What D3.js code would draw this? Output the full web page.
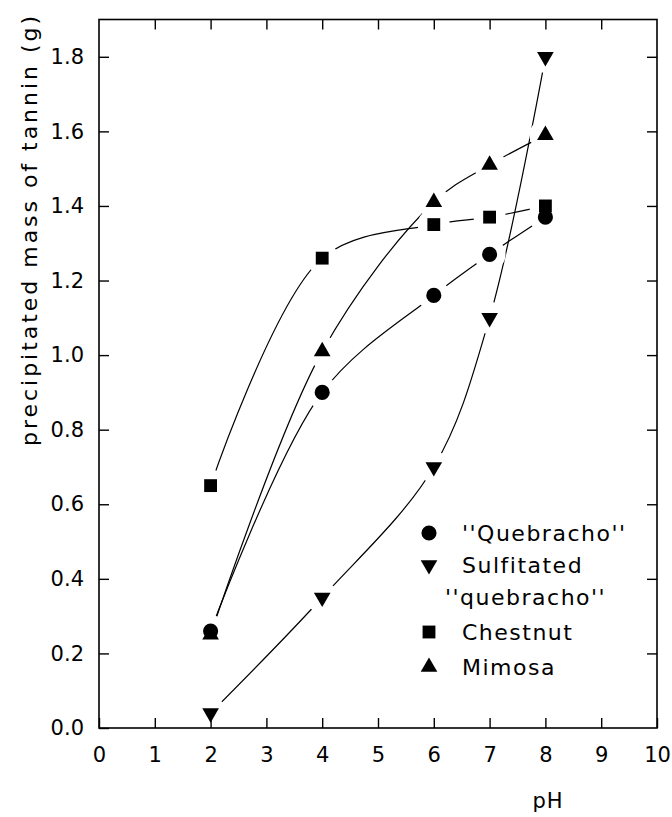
<!DOCTYPE html>
<html>
<head>
<meta charset="utf-8">
<script src="https://cdn.jsdelivr.net/npm/d3@7"></script>
<style>
  html, body { margin: 0; padding: 0; background: #fff; }
  svg { display: block; font-family: "DejaVu Sans", sans-serif; }
</style>
</head>
<body>
<svg id="chart" width="672" height="817"></svg>
<script>
// ---- data ----
const phValues   = [2, 4, 6, 7, 8];
const quebracho  = [0.26, 0.90, 1.16, 1.27, 1.37];
const sulfitated = [0.04, 0.35, 0.70, 1.10, 1.80];
const chestnut   = [0.65, 1.26, 1.35, 1.37, 1.40];
const mimosa     = [0.25, 1.01, 1.41, 1.51, 1.59];
const seriesLabels = [["''Quebracho''"], ["Sulfitated", "''quebracho''"], ["Chestnut"], ["Mimosa"]];
const xTickValues = [0, 1, 2, 3, 4, 5, 6, 7, 8, 9, 10];
const yTickValues = [0, 0.2, 0.4, 0.6, 0.8, 1.0, 1.2, 1.4, 1.6, 1.8];
const xTitle = "pH";
const yTitle = "precipitated mass of tannin (g)";

const series = [
  { label: seriesLabels[0], values: quebracho,  symbol: d3.symbolCircle,   size: 180, rot: 0 },
  { label: seriesLabels[1], values: sulfitated, symbol: d3.symbolTriangle, size: 120, rot: 180 },
  { label: seriesLabels[2], values: chestnut,   symbol: d3.symbolSquare,   size: 165, rot: 0 },
  { label: seriesLabels[3], values: mimosa,     symbol: d3.symbolTriangle, size: 120, rot: 0 }
];

const svg = d3.select("#chart");
const x = d3.scaleLinear().domain([0, 10]).range([99, 657]);
const y = d3.scaleLinear().domain([0, 1.9]).range([728, 19.5]);

// curves
const line = d3.line()
  .x((d, i) => x(phValues[i]))
  .y(d => y(d))
  .curve(d3.curveCatmullRom);
const plot = svg.append("g");
series.forEach(s => {
  plot.append("path").attr("d", line(s.values))
    .attr("fill", "none").attr("stroke", "#000").attr("stroke-width", 1.2);
});
// white gaps around points
series.forEach(s => {
  s.values.forEach((v, i) => {
    plot.append("circle").attr("cx", x(phValues[i])).attr("cy", y(v)).attr("r", 16).attr("fill", "#fff");
  });
});

// axes (ticks inward on all four sides)
const gB = svg.append("g").attr("transform", `translate(0,${y(0)})`)
  .call(d3.axisBottom(x).tickValues(xTickValues).tickSize(-10).tickPadding(19).tickFormat(d3.format("d")));
const gL = svg.append("g").attr("transform", `translate(${x(0)},0)`)
  .call(d3.axisLeft(y).tickValues(yTickValues).tickSize(-10).tickPadding(15).tickFormat(d3.format(".1f")));
const gT = svg.append("g").attr("transform", `translate(0,${y(1.9)})`)
  .call(d3.axisTop(x).tickValues(xTickValues.slice(1, -1)).tickSize(-10).tickFormat(""));
const gR = svg.append("g").attr("transform", `translate(${x(10)},0)`)
  .call(d3.axisRight(y).tickValues(yTickValues.slice(1)).tickSize(-10).tickFormat(""));
[gB, gL, gT, gR].forEach(g => {
  g.select(".domain").remove();
  g.selectAll(".tick line").attr("stroke", "#000").attr("stroke-width", 1.4);
  g.selectAll(".tick text").attr("fill", "#000").attr("font-size", 21)
    .attr("font-family", "DejaVu Sans, sans-serif");
});

// frame
svg.append("rect")
  .attr("x", x(0)).attr("y", y(1.9))
  .attr("width", x(10) - x(0)).attr("height", y(0) - y(1.9))
  .attr("fill", "none").attr("stroke", "#000").attr("stroke-width", 1.6);

// markers
const marks = svg.append("g");
series.forEach(s => {
  const sym = d3.symbol().type(s.symbol).size(s.size);
  s.values.forEach((v, i) => {
    marks.append("path").attr("d", sym())
      .attr("transform", `translate(${x(phValues[i])},${y(v)}) rotate(${s.rot})`)
      .attr("fill", "#000");
  });
});

// legend
const legendRows = [533, 565, 632, 667];
const legend = svg.append("g");
series.forEach((s, k) => {
  const cy = legendRows[k];
  legend.append("path").attr("d", d3.symbol().type(s.symbol).size(s.size)())
    .attr("transform", `translate(429,${cy}) rotate(${s.rot})`).attr("fill", "#000");
  s.label.forEach((t, j) => {
    legend.append("text")
      .attr("x", j === 0 ? 462 : 445)
      .attr("y", cy + j * 32)
      .attr("dy", "0.36em")
      .attr("font-size", 22)
      .attr("letter-spacing", 1.5)
      .attr("fill", "#000")
      .text(t);
  });
});

// axis titles
svg.append("text")
  .attr("x", 548).attr("y", 808)
  .attr("text-anchor", "middle")
  .attr("font-size", 21).attr("letter-spacing", 1)
  .attr("fill", "#000")
  .text(xTitle);
svg.append("text")
  .attr("transform", "translate(37,231) rotate(-90)")
  .attr("text-anchor", "middle")
  .attr("font-size", 22)
  .attr("textLength", 430).attr("lengthAdjust", "spacing")
  .attr("fill", "#000")
  .text(yTitle);
</script>
</body>
</html>
